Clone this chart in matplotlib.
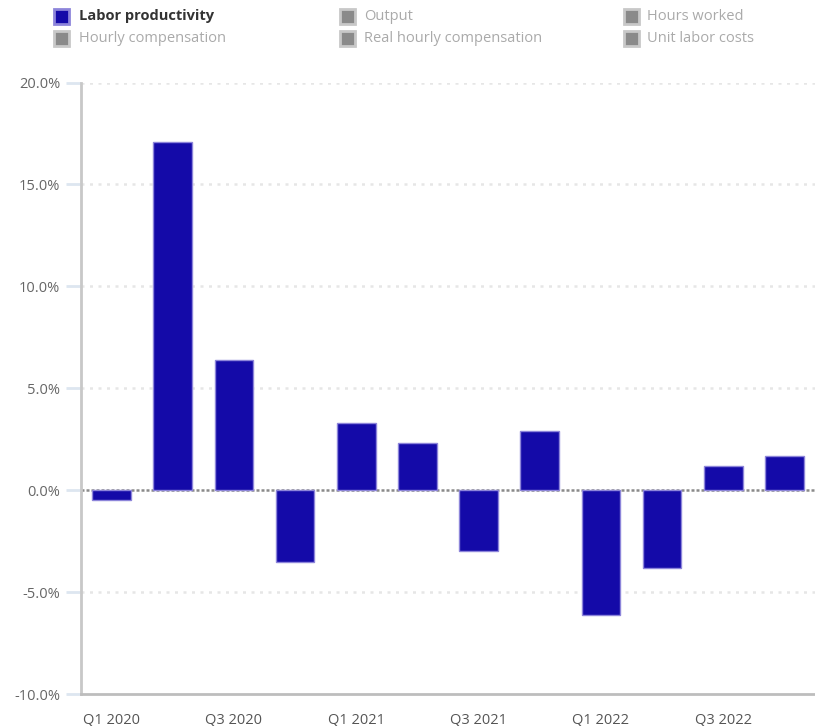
import matplotlib
matplotlib.use("Agg")
import matplotlib.pyplot as plt
from matplotlib.patches import Rectangle

quarters = ["Q1 2020", "Q2 2020", "Q3 2020", "Q4 2020",
            "Q1 2021", "Q2 2021", "Q3 2021", "Q4 2021",
            "Q1 2022", "Q2 2022", "Q3 2022", "Q4 2022"]
labor_productivity = [-0.5, 17.1, 6.4, -3.5, 3.3, 2.3, -3.0, 2.9, -6.1, -3.8, 1.2, 1.7]
y_ticks = [-10, -5, 0, 5, 10, 15, 20]
y_tick_labels = ["-10.0%", "-5.0%", "0.0%", "5.0%", "10.0%", "15.0%", "20.0%"]
legend_labels = ["Labor productivity", "Output", "Hours worked",
                 "Hourly compensation", "Real hourly compensation", "Unit labor costs"]

plt.rcParams['font.family'] = ['Open Sans', 'DejaVu Sans']

fig = plt.figure(figsize=(8.15, 7.26), dpi=100)
ax = fig.add_axes([81/815, 1-694/726, 1-81/815, (694-82.5)/726])

x = list(range(len(quarters)))
ax.set_xlim(-0.5, len(quarters)-0.5)
ax.set_ylim(-10, 20)

# grid lines
for t in [5, 10, 15, 20, -5]:
    ax.axhline(t, color='#e6e6e6', lw=1.8, ls=(0, (1.2, 2.2)), zorder=0)
# zero line
ax.axhline(0, color='#8a8a8a', lw=1.8, ls=(0, (1.2, 0.8)), zorder=1)

ax.bar(x, labor_productivity, width=0.63, color='#140aa8',
       edgecolor='#8d85da', linewidth=1.0, zorder=2)

ax.set_yticks(y_ticks)
ax.set_yticklabels(y_tick_labels)
ax.set_xticks(x[::2])
ax.set_xticklabels(quarters[::2])
ax.tick_params(axis='y', length=11, width=2, color='#dde6f0', labelsize=10.5,
               labelcolor='#666666', pad=4)
ax.tick_params(axis='x', length=0, labelsize=10.5, labelcolor='#555555', pad=13)

for s in ['top', 'right']:
    ax.spines[s].set_visible(False)
ax.spines['left'].set_color('#c8c8c8')
ax.spines['left'].set_linewidth(2)
ax.spines['bottom'].set_color('#bdbdbd')
ax.spines['bottom'].set_linewidth(2)

# legend (custom, 3 columns x 2 rows)
sq_x = [52, 338, 622]
txt_x = [79, 364, 647]
row_y = [16, 38]
for i, lab in enumerate(legend_labels):
    r, c = divmod(i, 3)
    yp = row_y[r]
    if i == 0:
        fc, ec, tc, fw = '#140aa8', '#8d85da', '#333333', 'bold'
    else:
        fc, ec, tc, fw = '#8a8a8a', '#c8c8c8', '#aaaaaa', 'normal'
    fig.patches.append(Rectangle(((sq_x[c]+2)/815, 1-(yp+8)/726), 15/815, 15/726,
                                 transform=fig.transFigure, facecolor=fc,
                                 edgecolor=ec, linewidth=2))
    fig.text(txt_x[c]/815, 1-yp/726, lab, fontsize=10.5, color=tc,
             fontweight=fw, va='center', ha='left')

fig.savefig("out.png", dpi=100)
